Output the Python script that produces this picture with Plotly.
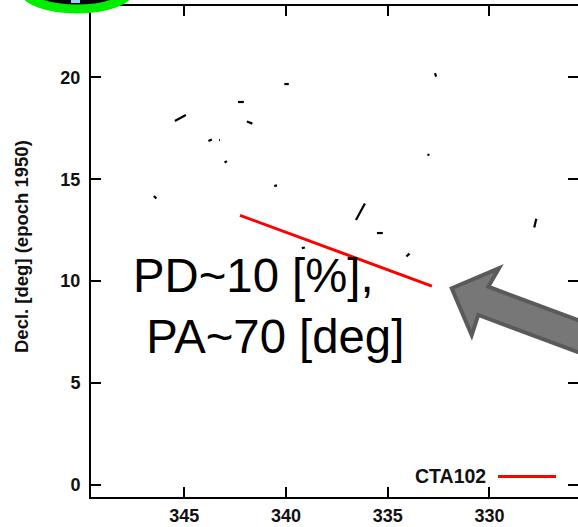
import plotly.graph_objects as go

# ---- data (RA [deg], Decl. [deg], epoch 1950) ----
# short polarization vectors of field sources: start / end points
vec_ra_start = [345.46, 342.36, 340.08, 341.92, 343.81, 343.29, 343.02, 340.58, 346.49,
                332.68, 333.05, 336.56, 335.53, 334.08, 327.80, 339.22]
vec_dec_start = [17.86, 18.79, 19.67, 17.83, 16.88, 16.92, 15.82, 14.67, 14.18,
                 20.21, 16.21, 13.00, 12.36, 11.21, 12.63, 11.62]
vec_ra_end = [344.92, 342.07, 339.86, 341.65, 343.64, 343.25, 342.90, 340.44, 346.37,
              332.62, 332.95, 336.12, 335.24, 333.93, 327.70, 339.07]
vec_dec_end = [18.15, 18.79, 19.67, 17.73, 16.95, 16.92, 15.89, 14.70, 14.05,
               20.04, 16.19, 13.81, 12.36, 11.35, 13.06, 11.65]

# CTA102 polarization vector
cta_ra = [342.26, 332.83]
cta_dec = [13.23, 9.76]
cta_label = "CTA102"

x_ticks = [345, 340, 335, 330]
y_ticks = [0, 5, 10, 15, 20]
x_range = [349.58, 325.65]
y_range = [-0.59, 23.5]

annot_text = "PD~10 [%],<br>\u00a0PA~70 [deg]"
y_title = "Decl. [deg] (epoch 1950)"

# ---- figure ----
W, H = 578, 527
ML, MR, MT, MB = 91, 0, 6, 30
PW, PH = W - ML - MR, H - MT - MB


def px(x):
    return (x - ML) / PW


def py(y):
    return (H - MB - y) / PH


vx, vy = [], []
for a, b, c, d in zip(vec_ra_start, vec_dec_start, vec_ra_end, vec_dec_end):
    vx += [a, c, None]
    vy += [b, d, None]

fig = go.Figure()
fig.add_trace(go.Scatter(x=vx, y=vy, mode="lines",
                         line=dict(color="black", width=2.2),
                         showlegend=False, hoverinfo="skip"))
fig.add_trace(go.Scatter(x=cta_ra, y=cta_dec, mode="lines",
                         line=dict(color="#ff0000", width=3),
                         name=cta_label, showlegend=False))

tickfont = dict(family="Liberation Sans", size=18, color="#111111", weight="bold")

fig.update_layout(
    width=W, height=H,
    margin=dict(l=ML, r=MR, t=MT, b=MB, pad=0),
    plot_bgcolor="white", paper_bgcolor="white",
    showlegend=False,
    xaxis=dict(range=x_range, tickvals=x_ticks, ticktext=[str(v) for v in x_ticks],
               showgrid=False, zeroline=False, showline=True, linecolor="black",
               linewidth=2, mirror="ticks", ticks="inside", ticklen=10, tickwidth=2,
               tickcolor="black", tickfont=tickfont, automargin=False,
               ticklabelstandoff=1),
    yaxis=dict(range=y_range, tickvals=y_ticks, ticktext=[str(v) for v in y_ticks],
               showgrid=False, zeroline=False, showline=True, linecolor="black",
               linewidth=2, mirror="ticks", ticks="inside", ticklen=10, tickwidth=2,
               tickcolor="black", tickfont=tickfont, automargin=False,
               ticklabelstandoff=5),
)

# y-axis title
fig.add_annotation(text=f"<b>{y_title}</b>", xref="paper", yref="paper",
                   x=px(21), y=py(247), textangle=-90, showarrow=False,
                   xanchor="center", yanchor="middle",
                   font=dict(family="Liberation Sans", size=18.5, color="#111111"))

# legend (text then line sample, gnuplot style)
fig.add_annotation(text=f"<b>{cta_label}</b>", xref="paper", yref="paper",
                   x=px(488), y=py(476), showarrow=False, xanchor="right",
                   yanchor="middle",
                   font=dict(family="Liberation Sans", size=19.5, color="#111111"))
fig.add_shape(type="line", xref="paper", yref="paper",
              x0=px(498), x1=px(556), y0=py(476.5), y1=py(476.5),
              line=dict(color="#ff0000", width=3))

# big text overlay
fig.add_annotation(text=annot_text, xref="paper", yref="paper",
                   x=px(131), y=py(306), showarrow=False, xanchor="left",
                   yanchor="middle", align="left",
                   font=dict(family="Liberation Sans", size=47.3, color="black"))

# gray block arrow
pts = [(451.7, 288.3), (499, 268.3), (488.3, 286.7), (600, 328.3),
       (600, 360.3), (478.3, 315), (471.7, 335)]
path = "M " + " L ".join(f"{px(a):.4f},{py(b):.4f}" for a, b in pts) + " Z"
fig.add_shape(type="path", xref="paper", yref="paper", path=path,
              fillcolor="#777777", line=dict(color="#5a5a5a", width=4))

# green circle (cropped at top-left)
fig.add_shape(type="circle", xref="paper", yref="paper",
              x0=px(24), x1=px(130), y0=py(9), y1=py(-30),
              fillcolor="#05050f", line=dict(color="#00ee00", width=9))
fig.add_shape(type="rect", xref="paper", yref="paper",
              x0=px(71), x1=px(80), y0=py(3), y1=py(-2),
              fillcolor="#8fd3f0", line=dict(width=0))

fig.write_html("out.html", config={"displayModeBar": False},
               post_script="document.body.style.margin='0';"
                           "document.body.style.overflow='hidden';")
